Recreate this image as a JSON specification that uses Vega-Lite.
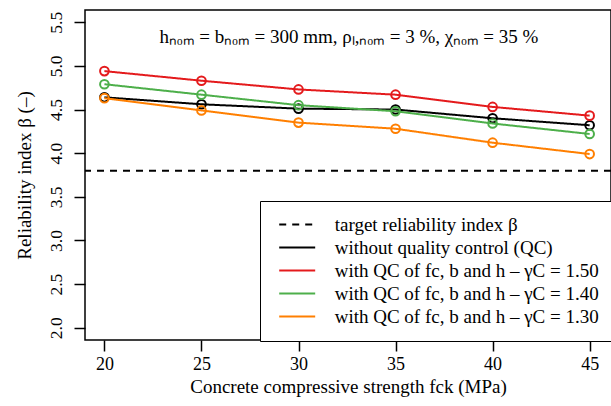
{
  "$schema": "https://vega.github.io/schema/vega-lite/v6.json",
  "width": 526,
  "height": 330,
  "autosize": {"type": "none"},
  "padding": {"left": 85, "top": 10, "right": 0, "bottom": 66},
  "background": "white",
  "config": {
    "view": {"stroke": "black", "strokeWidth": 1.5},
    "font": "Liberation Serif",
    "axis": {
      "grid": false,
      "domain": false,
      "tickColor": "black",
      "tickWidth": 1.5,
      "tickSize": 11,
      "labelFont": "Liberation Serif",
      "labelFontSize": 18,
      "labelColor": "black",
      "titleFont": "Liberation Serif",
      "titleFontSize": 19,
      "titleFontWeight": "normal",
      "titleColor": "black"
    }
  },
  "data": {
    "values": [
      {"series": "target reliability index β", "fck": 20, "beta": 3.8},
      {"series": "without quality control (QC)", "fck": 20, "beta": 4.64},
      {"series": "without quality control (QC)", "fck": 25, "beta": 4.56},
      {"series": "without quality control (QC)", "fck": 30, "beta": 4.51},
      {"series": "without quality control (QC)", "fck": 35, "beta": 4.50},
      {"series": "without quality control (QC)", "fck": 40, "beta": 4.40},
      {"series": "without quality control (QC)", "fck": 45, "beta": 4.32},
      {"series": "with QC of fc, b and h – γC = 1.50", "fck": 20, "beta": 4.94},
      {"series": "with QC of fc, b and h – γC = 1.50", "fck": 25, "beta": 4.83},
      {"series": "with QC of fc, b and h – γC = 1.50", "fck": 30, "beta": 4.73},
      {"series": "with QC of fc, b and h – γC = 1.50", "fck": 35, "beta": 4.67},
      {"series": "with QC of fc, b and h – γC = 1.50", "fck": 40, "beta": 4.53},
      {"series": "with QC of fc, b and h – γC = 1.50", "fck": 45, "beta": 4.43},
      {"series": "with QC of fc, b and h – γC = 1.40", "fck": 20, "beta": 4.79},
      {"series": "with QC of fc, b and h – γC = 1.40", "fck": 25, "beta": 4.67},
      {"series": "with QC of fc, b and h – γC = 1.40", "fck": 30, "beta": 4.55},
      {"series": "with QC of fc, b and h – γC = 1.40", "fck": 35, "beta": 4.48},
      {"series": "with QC of fc, b and h – γC = 1.40", "fck": 40, "beta": 4.34},
      {"series": "with QC of fc, b and h – γC = 1.40", "fck": 45, "beta": 4.22},
      {"series": "with QC of fc, b and h – γC = 1.30", "fck": 20, "beta": 4.63},
      {"series": "with QC of fc, b and h – γC = 1.30", "fck": 25, "beta": 4.49},
      {"series": "with QC of fc, b and h – γC = 1.30", "fck": 30, "beta": 4.35},
      {"series": "with QC of fc, b and h – γC = 1.30", "fck": 35, "beta": 4.28},
      {"series": "with QC of fc, b and h – γC = 1.30", "fck": 40, "beta": 4.12},
      {"series": "with QC of fc, b and h – γC = 1.30", "fck": 45, "beta": 3.99}
    ]
  },
  "encoding": {
    "x": {
      "field": "fck", "type": "quantitative",
      "scale": {"domain": [19, 46.1], "nice": false, "zero": false},
      "axis": {"values": [20, 25, 30, 35, 40, 45], "title": "Concrete compressive strength fck (MPa)", "labelPadding": 4, "titlePadding": 4}
    },
    "y": {
      "field": "beta", "type": "quantitative",
      "scale": {"domain": [1.86, 5.64], "nice": false, "zero": false},
      "axis": {"values": [2, 2.5, 3, 3.5, 4, 4.5, 5, 5.5], "format": ".1f", "title": "Reliability index β (–)", "labelAngle": -90, "labelAlign": "center", "labelBaseline": "bottom", "labelPadding": 9, "labelFontSize": 17.5, "titlePadding": 13}
    },
    "color": {
      "field": "series", "type": "nominal",
      "scale": {
        "domain": ["target reliability index β", "without quality control (QC)", "with QC of fc, b and h – γC = 1.50", "with QC of fc, b and h – γC = 1.40", "with QC of fc, b and h – γC = 1.30"],
        "range": ["#000000", "#000000", "#E41A1C", "#4DAF4A", "#FF7F00"]
      },
      "legend": {
        "orient": "none", "legendX": 175, "legendY": 191, "title": null,
        "symbolType": "M-2.57,0H2.57", "symbolSize": 196, "symbolStrokeWidth": 2,
        "labelFont": "Liberation Serif", "labelFontSize": 19, "labelColor": "black", "labelLimit": 0,
        "strokeColor": "black", "fillColor": "white", "padding": 14, "rowPadding": 3,
        "symbolOffset": 13.7, "labelOffset": 28
      }
    }
  },
  "layer": [
    {
      "transform": [{"filter": "datum.series == 'target reliability index β'"}],
      "mark": {"type": "rule", "strokeWidth": 2},
      "encoding": {
        "x": null,
        "strokeDash": {"field": "series", "type": "nominal", "scale": {
          "domain": ["target reliability index β", "without quality control (QC)", "with QC of fc, b and h – γC = 1.50", "with QC of fc, b and h – γC = 1.40", "with QC of fc, b and h – γC = 1.30"],
          "range": [[7, 6], [1, 0], [1, 0], [1, 0], [1, 0]]}}
      }
    },
    {
      "transform": [{"filter": "datum.series == 'without quality control (QC)'"}],
      "mark": {"type": "line", "strokeWidth": 2},
      "encoding": {"strokeDash": {"field": "series", "type": "nominal"}}
    },
    {
      "transform": [{"filter": "datum.series == 'without quality control (QC)'"}],
      "mark": {"type": "point", "shape": "circle", "filled": false, "size": 75, "strokeWidth": 2, "opacity": 1}
    },
    {
      "transform": [{"filter": "datum.series == 'with QC of fc, b and h – γC = 1.50'"}],
      "mark": {"type": "line", "strokeWidth": 2},
      "encoding": {"strokeDash": {"field": "series", "type": "nominal"}}
    },
    {
      "transform": [{"filter": "datum.series == 'with QC of fc, b and h – γC = 1.50'"}],
      "mark": {"type": "point", "shape": "circle", "filled": false, "size": 75, "strokeWidth": 2, "opacity": 1}
    },
    {
      "transform": [{"filter": "datum.series == 'with QC of fc, b and h – γC = 1.40'"}],
      "mark": {"type": "line", "strokeWidth": 2},
      "encoding": {"strokeDash": {"field": "series", "type": "nominal"}}
    },
    {
      "transform": [{"filter": "datum.series == 'with QC of fc, b and h – γC = 1.40'"}],
      "mark": {"type": "point", "shape": "circle", "filled": false, "size": 75, "strokeWidth": 2, "opacity": 1}
    },
    {
      "transform": [{"filter": "datum.series == 'with QC of fc, b and h – γC = 1.30'"}],
      "mark": {"type": "line", "strokeWidth": 2},
      "encoding": {"strokeDash": {"field": "series", "type": "nominal"}}
    },
    {
      "transform": [{"filter": "datum.series == 'with QC of fc, b and h – γC = 1.30'"}],
      "mark": {"type": "point", "shape": "circle", "filled": false, "size": 75, "strokeWidth": 2, "opacity": 1}
    },
    {
      "transform": [{"filter": "datum.series == 'target reliability index β'"}],
      "mark": {"type": "text", "text": "hₙₒₘ = bₙₒₘ = 300 mm, ρₗ,ₙₒₘ = 3 %, χₙₒₘ = 35 %", "font": "Liberation Serif", "fontSize": 19, "align": "center", "baseline": "middle"},
      "encoding": {
        "x": {"datum": 32.6},
        "y": {"datum": 5.33},
        "color": {"value": "black"}
      }
    }
  ]
}
